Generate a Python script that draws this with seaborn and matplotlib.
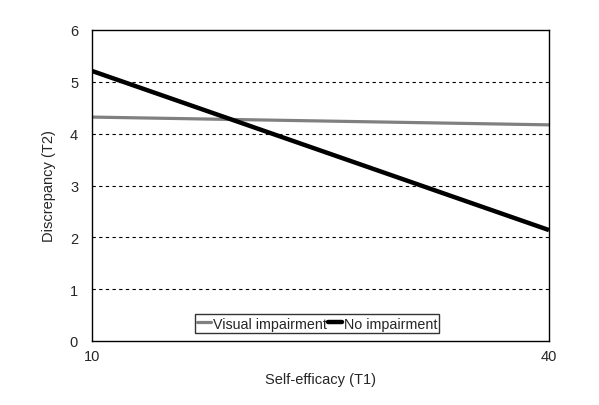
import matplotlib
matplotlib.use("Agg")
import matplotlib.pyplot as plt
import seaborn as sns
import pandas as pd

x_vals = [10, 40]
visual = [4.32, 4.17]
no_imp = [5.21, 2.14]
series_names = ["Visual impairment", "No impairment"]

df = pd.DataFrame({
    "x": x_vals * 2,
    "y": visual + no_imp,
    "group": [series_names[0]] * 2 + [series_names[1]] * 2,
})

sns.set_style("white")
plt.rcParams["font.family"] = ["Liberation Sans", "DejaVu Sans"]

fig = plt.figure(figsize=(5.99, 4.06), dpi=100)
ax = fig.add_axes([92/599, 1-342/406, (549-92)/599, (342-31)/406])

sns.lineplot(data=df, x="x", y="y", hue="group", palette={series_names[0]: "#808080", series_names[1]: "#000000"},
             ax=ax, legend=False)
lw = {0: 2.3, 1: 3.2}
for i, line in enumerate(ax.get_lines()):
    line.set_linewidth(lw.get(i, 2))
    line.set_solid_capstyle("butt")

ax.set_xlim(10, 40)
ax.set_ylim(0, 6)
ax.set_xticks([10, 40])
ax.set_yticks([0, 1, 2, 3, 4, 5, 6])
for yv in [1, 2, 3, 4, 5]:
    ax.axhline(yv, color="black", lw=0.8, ls=(0, (3, 3)), zorder=0)
ax.tick_params(axis="x", length=0, labelsize=10.5, pad=6)
ax.tick_params(axis="y", length=0, labelsize=10.5, pad=10)
for s in ax.spines.values():
    s.set_color("black")
    s.set_linewidth(1)
ax.set_xlabel("Self-efficacy (T1)", fontsize=10.5, labelpad=6)
ax.set_ylabel("Discrepancy (T2)", fontsize=10.5, labelpad=10)

from matplotlib.lines import Line2D
handles = [Line2D([], [], color="#808080", lw=2.3), Line2D([], [], color="black", lw=3.2)]
leg = fig.legend(handles, series_names, loc="center", bbox_to_anchor=(317/599, 1-324.5/406),
                 ncol=2, frameon=True, fontsize=10.3, handlelength=1.0, handletextpad=0.1,
                 columnspacing=0.1, borderpad=0.15, fancybox=False, borderaxespad=0)
leg.get_frame().set_edgecolor("black")
leg.get_frame().set_linewidth(1)

fig.savefig("out.png", dpi=100)
